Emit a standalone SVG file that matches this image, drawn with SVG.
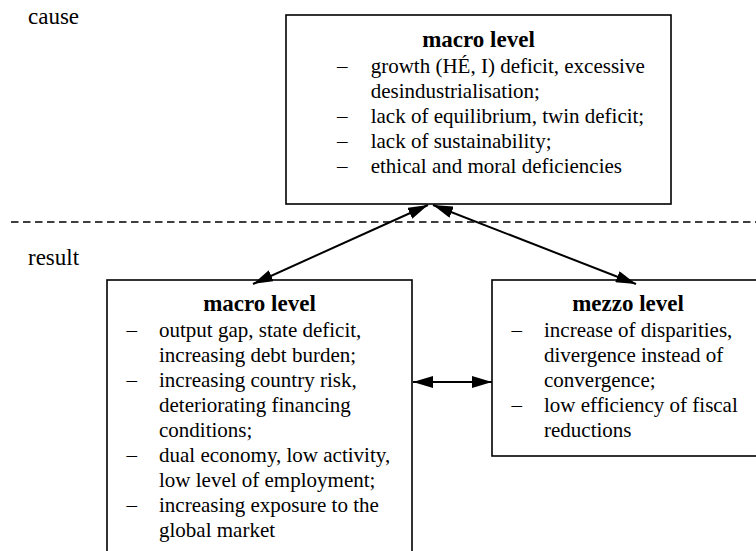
<svg xmlns="http://www.w3.org/2000/svg" width="756" height="551" viewBox="0 0 756 551">
<style>
.box{fill:#fff;stroke:#000;stroke-width:1.6}
.t{font-family:"Liberation Serif","Times New Roman",serif;font-size:21px;fill:#000}
.h{font-family:"Liberation Serif","Times New Roman",serif;font-size:23px;font-weight:bold;fill:#000;text-anchor:middle}
.lbl{font-family:"Liberation Serif","Times New Roman",serif;font-size:23px;fill:#000}
.arr{stroke:#000;stroke-width:2;fill:none;marker-start:url(#ah);marker-end:url(#ah)}
.dash{stroke:#000;stroke-width:1.4;stroke-dasharray:7.5 4.5;fill:none}
</style>
<defs>
<marker id="ah" markerUnits="userSpaceOnUse" markerWidth="20" markerHeight="12" refX="20" refY="6" orient="auto-start-reverse">
<path d="M0,0 L20,6 L0,12 z" fill="#000"/>
</marker>
</defs>
<rect width="756" height="551" fill="#fff"/>
<text class="lbl" x="28" y="24">cause</text>
<text class="lbl" x="28" y="265">result</text>
<line class="dash" x1="11" y1="222" x2="756" y2="222"/>
<g id="top-macro">
<rect class="box" x="286" y="15" width="385" height="189"/>
<text class="h" x="478.5" y="47">macro level</text>
<text class="t" x="337" y="73">–</text><text class="t" x="370.7" y="73">growth (HÉ, I) deficit, excessive</text>
<text class="t" x="370.7" y="98">desindustrialisation;</text>
<text class="t" x="337" y="123">–</text><text class="t" x="370.7" y="123">lack of equilibrium, twin deficit;</text>
<text class="t" x="337" y="148">–</text><text class="t" x="370.7" y="148">lack of sustainability;</text>
<text class="t" x="337" y="173">–</text><text class="t" x="370.7" y="173">ethical and moral deficiencies</text>
</g>
<g id="result-macro">
<rect class="box" x="107" y="280" width="305" height="290"/>
<text class="h" x="259.5" y="311">macro level</text>
<text class="t" x="126.5" y="337">–</text><text class="t" x="159" y="337">output gap, state deficit,</text>
<text class="t" x="159" y="362">increasing debt burden;</text>
<text class="t" x="126.5" y="387">–</text><text class="t" x="159" y="387">increasing country risk,</text>
<text class="t" x="159" y="412">deteriorating financing</text>
<text class="t" x="159" y="437">conditions;</text>
<text class="t" x="126.5" y="462">–</text><text class="t" x="159" y="462">dual economy, low activity,</text>
<text class="t" x="159" y="487">low level of employment;</text>
<text class="t" x="126.5" y="512">–</text><text class="t" x="159" y="512">increasing exposure to the</text>
<text class="t" x="159" y="537">global market</text>
</g>
<g id="result-mezzo">
<rect class="box" x="492" y="280" width="272" height="176"/>
<text class="h" x="628" y="311">mezzo level</text>
<text class="t" x="511.5" y="337">–</text><text class="t" x="544" y="337">increase of disparities,</text>
<text class="t" x="544" y="362">divergence instead of</text>
<text class="t" x="544" y="387">convergence;</text>
<text class="t" x="511.5" y="412">–</text><text class="t" x="544" y="412">low efficiency of fiscal</text>
<text class="t" x="544" y="437">reductions</text>
</g>
<g id="connectors">
<line class="arr" x1="428" y1="205" x2="253" y2="284"/>
<line class="arr" x1="433" y1="205" x2="636" y2="284"/>
<line class="arr" x1="413" y1="382" x2="492" y2="382"/>
</g>
</svg>
